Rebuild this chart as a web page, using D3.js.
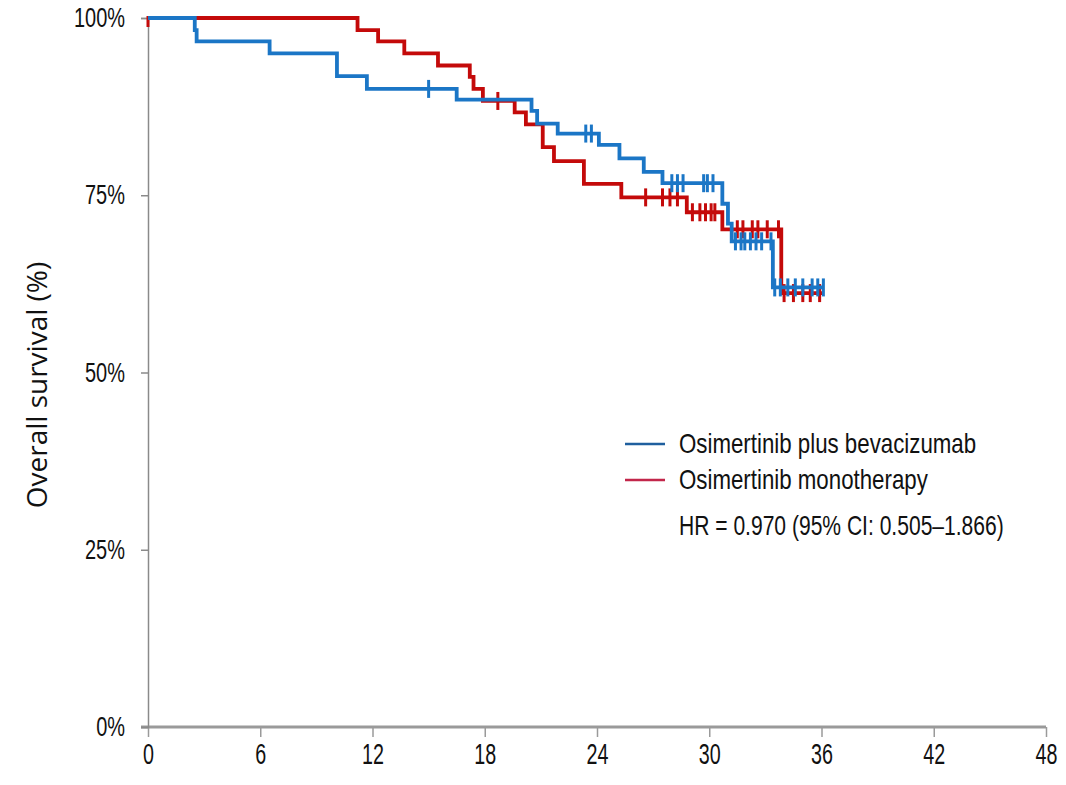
<!DOCTYPE html>
<html>
<head>
<meta charset="utf-8">
<script src="https://cdn.jsdelivr.net/npm/d3@7"></script>
<style>
  html, body { margin: 0; padding: 0; background: #fff; }
  svg { display: block; }
  .lab { font-family: "Liberation Sans", Arial, sans-serif; fill: #111; }
</style>
</head>
<body>
<svg id="chart" width="1066" height="785"></svg>
<script>
// Kaplan–Meier overall survival, months vs percent surviving
const xTicks = [0, 6, 12, 18, 24, 30, 36, 42, 48];
const yTicks = [0, 25, 50, 75, 100];

// Osimertinib plus bevacizumab: [time of event, survival after event]
const comboSteps = [
  [0, 100], [2.5, 98.3], [2.6, 96.7], [6.5, 95.0], [10.1, 91.8], [11.7, 90.0],
  [16.5, 88.5], [20.5, 86.9], [20.8, 85.1], [21.9, 83.7], [24.1, 82.1],
  [25.2, 80.2], [26.5, 78.3], [27.5, 76.7], [30.7, 73.8], [31.0, 71.0],
  [31.2, 68.5], [33.4, 62.0]
];
const comboEnd = 36.1;
const comboCensored = [
  15.0, 23.4, 23.7, 28.0, 28.3, 28.6, 29.7, 29.9, 30.2,
  31.4, 31.7, 31.9, 32.2, 32.5, 32.8, 33.3,
  33.5, 33.8, 34.2, 34.6, 35.0, 35.5, 35.8, 36.1
];

// Osimertinib monotherapy
const monoSteps = [
  [0, 100], [11.2, 98.3], [12.3, 96.7], [13.7, 95.0], [15.5, 93.3], [17.2, 91.7],
  [17.4, 90.0], [17.9, 88.3], [19.6, 86.7], [20.2, 85.0], [21.1, 81.8],
  [21.7, 79.8], [23.3, 76.6], [25.3, 74.7], [28.8, 72.6], [30.7, 70.2],
  [33.85, 61.2]
];
const monoEnd = 36.1;
const monoCensored = [
  0, 18.7, 26.6, 27.5, 27.9, 28.3, 29.1, 29.5, 29.8, 30.1, 30.3,
  31.5, 31.8, 32.3, 32.6, 33.1, 33.7,
  34.0, 34.5, 35.0, 35.4, 35.9
];

const legendLabels = ["Osimertinib plus bevacizumab", "Osimertinib monotherapy"];
const hrLabel = "HR = 0.970 (95% CI: 0.505\u20131.866)";
const yTitle = "Overall survival (%)";

const svg = d3.select("#chart");
const x = d3.scaleLinear().domain([0, 48]).range([148, 1046]);
const y = d3.scaleLinear().domain([0, 100]).range([727, 18]);

const blue = "#1b76c6";
const red = "#c40a0a";

// squeeze a text element horizontally about its own anchor point
function narrow(sel, s) {
  sel.each(function () {
    const t = d3.select(this);
    const x0 = +t.attr("x") || 0;
    t.attr("x", x0 / s).attr("transform", `scale(${s},1)`);
  });
}

// axes
const xAxis = svg.append("g").attr("transform", `translate(0,${y(0)})`)
  .call(d3.axisBottom(x).tickValues(xTicks).tickSize(10).tickPadding(6).tickFormat(d3.format("d")));
xAxis.select(".domain").remove();
xAxis.selectAll(".tick line").attr("stroke", "#9a9a9a").attr("stroke-width", 1.5);
xAxis.selectAll(".tick text").attr("class", "lab").attr("font-size", 29).call(narrow, 0.68);
svg.append("line").attr("x1", 141).attr("x2", x(48)).attr("y1", y(0)).attr("y2", y(0))
  .attr("stroke", "#9a9a9a").attr("stroke-width", 3);

const yAxis = svg.append("g").attr("transform", `translate(${x(0)},0)`)
  .call(d3.axisLeft(y).tickValues(yTicks).tickSize(7).tickPadding(16).tickFormat(d => d + "%"));
yAxis.select(".domain").attr("stroke", "#8a8a8a").attr("stroke-width", 1.5);
yAxis.selectAll(".tick line").attr("stroke", "#8a8a8a").attr("stroke-width", 1.5);
yAxis.selectAll(".tick text").attr("class", "lab").attr("font-size", 27).call(narrow, 0.74);

svg.append("text")
  .attr("transform", `translate(47,${385}) rotate(-90)`)
  .attr("text-anchor", "middle")
  .attr("font-family", "'Open Sans', sans-serif")
  .attr("font-size", 28)
  .attr("fill", "#111")
  .text(yTitle);

// survival curves
svg.append("clipPath").attr("id", "plotClip")
  .append("rect").attr("x", x(0) - 2).attr("y", y(100) - 2)
  .attr("width", x(48) - x(0) + 4).attr("height", y(0) - y(100) + 2);
const plot = svg.append("g").attr("clip-path", "url(#plotClip)");

function survivalAt(steps, t) {
  let s = steps[0][1];
  for (const [time, v] of steps) { if (time <= t) s = v; }
  return s;
}

function drawCurve(steps, end, censored, color) {
  const pts = steps.concat([[end, steps[steps.length - 1][1]]]);
  const line = d3.line().x(d => x(d[0])).y(d => y(d[1])).curve(d3.curveStepAfter);
  plot.append("path").datum(pts)
    .attr("fill", "none").attr("stroke", color).attr("stroke-width", 3.8)
    .attr("d", line);
  plot.selectAll(null).data(censored).enter().append("line")
    .attr("x1", d => x(d)).attr("x2", d => x(d))
    .attr("y1", d => y(survivalAt(steps, d)) - 9)
    .attr("y2", d => y(survivalAt(steps, d)) + 9)
    .attr("stroke", color).attr("stroke-width", 3);
}

drawCurve(monoSteps, monoEnd, monoCensored, red);
drawCurve(comboSteps, comboEnd, comboCensored, blue);

// legend
const legendColors = ["#1f5f9e", "#c2264a"];
const lg = svg.append("g");
legendLabels.forEach((lab, i) => {
  const ly = 444 + i * 36;
  lg.append("line").attr("x1", 625).attr("x2", 665).attr("y1", ly).attr("y2", ly)
    .attr("stroke", legendColors[i]).attr("stroke-width", 2.5);
  lg.append("text").attr("class", "lab").attr("x", 679).attr("y", ly + 9)
    .attr("font-size", 27).text(lab).call(narrow, 0.825);
});
lg.append("text").attr("class", "lab").attr("x", 679).attr("y", 535)
  .attr("font-size", 27).text(hrLabel).call(narrow, 0.78);
</script>
</body>
</html>
